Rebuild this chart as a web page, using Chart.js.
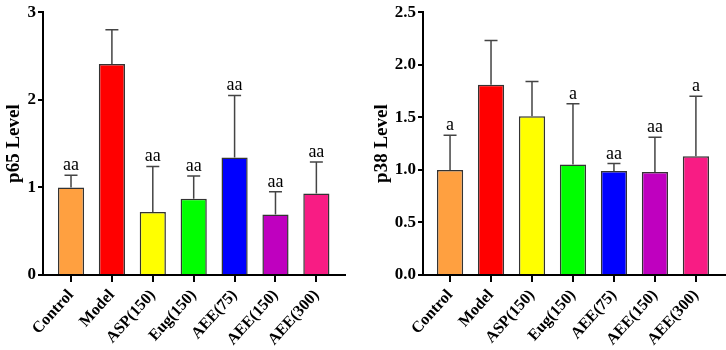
<!DOCTYPE html>
<html>
<head>
<meta charset="utf-8">
<script src="https://cdn.jsdelivr.net/npm/chart.js@4.4.1/dist/chart.umd.min.js"></script>
<style>
  body { margin: 0; background: #fff; }
  #wrap { display: flex; width: 726px; height: 350px; }
  canvas { display: block; }
</style>
</head>
<body>
<div id="wrap">
  <canvas id="p65Chart" width="363" height="350"></canvas>
  <canvas id="p38Chart" width="363" height="350"></canvas>
</div>
<script>
// groups on the x axis
const categories = ['Control', 'Model', 'ASP(150)', 'Eug(150)', 'AEE(75)', 'AEE(150)', 'AEE(300)'];
const barColors = ['#FFA040', '#FF0000', '#FFFF00', '#00FF00', '#0000FF', '#BF00BF', '#F81C84'];

// p65 panel
const p65Values = [1.0, 2.41, 0.72, 0.87, 1.34, 0.69, 0.93];
const p65Errors = [0.14, 0.39, 0.52, 0.26, 0.71, 0.26, 0.36];
const p65Marks = ['aa', '', 'aa', 'aa', 'aa', 'aa', 'aa'];
const p65Ticks = [0, 1, 2, 3];

// p38 panel
const p38Values = [1.0, 1.81, 1.51, 1.05, 0.99, 0.98, 1.13];
const p38Errors = [0.33, 0.42, 0.33, 0.58, 0.07, 0.33, 0.57];
const p38Marks = ['a', '', '', 'a', 'aa', 'aa', 'a'];
const p38Ticks = [0, 0.5, 1.0, 1.5, 2.0, 2.5];

const serif = "'Liberation Serif', 'Times New Roman', serif";

// draws the upward error bar and the letters above it
function errorBarPlugin(errors, marks) {
    return {
        id: 'errorBars',
        afterDatasetsDraw(chart) {
            const ctx = chart.ctx;
            const meta = chart.getDatasetMeta(0);
            const yScale = chart.scales.y;
            const values = chart.data.datasets[0].data;
            ctx.save();
            meta.data.forEach((bar, i) => {
                const x = bar.x;
                const yTop = bar.y;
                const yErr = yScale.getPixelForValue(values[i].y + errors[i]);
                ctx.strokeStyle = '#444';
                ctx.lineWidth = 1.5;
                ctx.beginPath();
                ctx.moveTo(x, yTop);
                ctx.lineTo(x, yErr);
                ctx.moveTo(x - 6.5, yErr);
                ctx.lineTo(x + 6.5, yErr);
                ctx.stroke();
                if (marks[i]) {
                    ctx.fillStyle = '#000';
                    ctx.font = '18px ' + serif;
                    ctx.textAlign = 'center';
                    ctx.textBaseline = 'alphabetic';
                    ctx.fillText(marks[i], x, yErr - 5);
                }
            });
            ctx.restore();
        }
    };
}

function makeChart(id, values, errors, marks, yTicks, title, opts) {
    const ctx = document.getElementById(id).getContext('2d');
    return new Chart(ctx, {
        type: 'bar',
        data: {
            datasets: [{
                data: values.map((v, i) => ({ x: i, y: v })),
                backgroundColor: barColors,
                borderColor: '#333',
                borderWidth: 1.5,
                barPercentage: 0.64,
                categoryPercentage: 1
            }]
        },
        options: {
            responsive: false,
            animation: false,
            devicePixelRatio: 1,
            layout: {
                padding: { top: 7, right: opts.right, left: 0, bottom: 0 }
            },
            scales: {
                x: {
                    type: 'linear',
                    offset: false,
                    min: opts.xMin,
                    max: opts.xMax,
                    afterBuildTicks: s => { s.ticks = categories.map((c, i) => ({ value: i })); },
                    afterFit: s => { s.height = 75; },
                    ticks: {
                        autoSkip: false,
                        minRotation: 48,
                        maxRotation: 48,
                        padding: 4,
                        color: '#000',
                        font: { family: serif, size: 16, weight: 'bold' },
                        callback: v => categories[v]
                    },
                    grid: { offset: false, drawOnChartArea: false, tickLength: 7, color: '#000', lineWidth: 2 },
                    border: { color: '#000', width: 2 }
                },
                y: {
                    min: yTicks[0],
                    max: yTicks[yTicks.length - 1],
                    afterBuildTicks: s => { s.ticks = yTicks.map(v => ({ value: v })); },
                    afterFit: s => { s.width = opts.yWidth; },
                    ticks: {
                        padding: 2,
                        color: '#000',
                        font: { family: serif, size: 17, weight: 'bold' },
                        callback: v => opts.decimals ? v.toFixed(1) : String(v)
                    },
                    grid: { drawOnChartArea: false, tickLength: 5, color: '#000', lineWidth: 2 },
                    border: { color: '#000', width: 2 },
                    title: {
                        display: true,
                        text: title,
                        color: '#000',
                        padding: { top: opts.titlePad, bottom: 0 },
                        font: { family: serif, size: 19, weight: 'bold' }
                    }
                }
            },
            plugins: {
                legend: { display: false },
                tooltip: { enabled: false }
            }
        },
        plugins: [errorBarPlugin(errors, marks)]
    });
}

makeChart('p65Chart', p65Values, p65Errors, p65Marks, p65Ticks, 'p65 Level',
    { xMin: -0.685, xMax: 6.7, yWidth: 43, right: 18, decimals: false, titlePad: 3 });
makeChart('p38Chart', p38Values, p38Errors, p38Marks, p38Ticks, 'p38 Level',
    { xMin: -0.66, xMax: 6.71, yWidth: 60, right: 1, decimals: true, titlePad: 8 });
</script>
</body>
</html>
